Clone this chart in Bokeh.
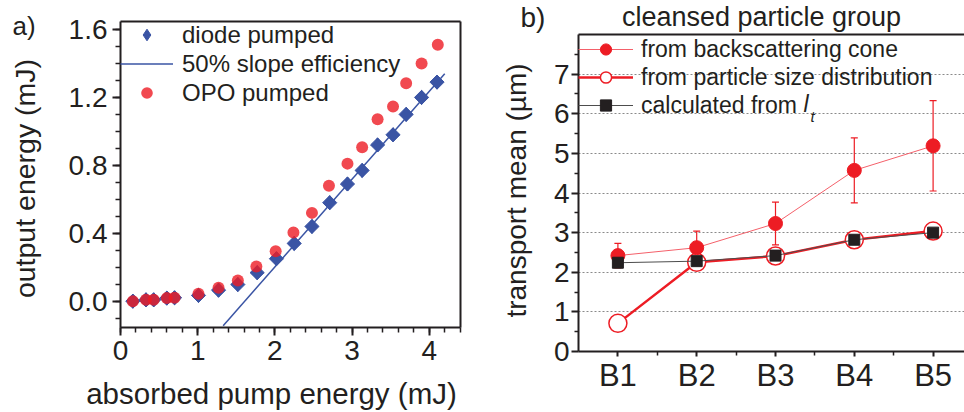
import numpy as np
from bokeh.plotting import figure
from bokeh.layouts import row
from bokeh.models import (Range1d, FixedTicker, Label, Legend, LegendItem, Whisker,
                          TeeHead, ColumnDataSource, LinearAxis, NumeralTickFormatter)
from bokeh.embed import file_html
from bokeh.resources import INLINE

# ---------------- data: panel a ----------------
diode_x = [0.16, 0.33, 0.43, 0.60, 0.70, 1.01, 1.27, 1.52, 1.77, 2.02, 2.25, 2.48, 2.71, 2.94, 3.13, 3.33, 3.53, 3.70, 3.90, 4.10]
diode_y = [0.0, 0.008, 0.008, 0.018, 0.02, 0.034, 0.065, 0.098, 0.168, 0.25, 0.34, 0.44, 0.58, 0.69, 0.77, 0.92, 0.98, 1.10, 1.20, 1.29]
opo_x = [0.16, 0.33, 0.43, 0.60, 0.70, 1.01, 1.27, 1.52, 1.76, 2.01, 2.24, 2.48, 2.70, 2.94, 3.13, 3.33, 3.53, 3.70, 3.90, 4.11]
opo_y = [0.0, 0.008, 0.008, 0.018, 0.02, 0.044, 0.079, 0.122, 0.204, 0.294, 0.405, 0.52, 0.68, 0.81, 0.907, 1.072, 1.147, 1.284, 1.40, 1.51]
slope_x = [1.33, 4.20]
slope_y = [-0.145, 1.34]
a_xticks = [0, 1, 2, 3, 4]
a_yticks = [0, 0.4, 0.8, 1.2, 1.6]

# ---------------- data: panel b ----------------
groups = ["B1", "B2", "B3", "B4", "B5"]
cone = [2.42, 2.62, 3.23, 4.57, 5.19]
cone_err = [0.31, 0.42, 0.54, 0.82, 1.14]
psd = [0.71, 2.25, 2.41, 2.82, 3.04]
calc = [2.24, 2.28, 2.42, 2.82, 3.00]
b_yticks = [0, 1, 2, 3, 4, 5, 6, 7]

FONT = "Liberation Sans"
TXT = "#231f20"
BLUE = "#3a54a4"
RED = "#ed1c24"
RED_LIGHT = "#f4606a"
H = 412


def make_fig(W, box_px, box_data):
    """Figure whose frame fills the canvas; box_px = (left, right, top, bottom) pixels of
    the drawn plot box, box_data = ((x0, x1), (y0, y1)) data extent of that box."""
    (l, r, t, b) = box_px
    (x0, x1), (y0, y1) = box_data
    kx = (r - l) / (x1 - x0)
    ky = (b - t) / (y1 - y0)
    xr = Range1d(x0 - l / kx, x1 + (W - r) / kx)
    yr = Range1d(y0 - (H - b) / ky, y1 + t / ky)
    p = figure(width=W, height=H, x_range=xr, y_range=yr, output_backend="svg",
               toolbar_location=None, x_axis_location=None, y_axis_location=None,
               min_border=0, min_border_left=0, min_border_right=0,
               min_border_top=0, min_border_bottom=0)
    p.frame_align = False
    p.title.visible = False
    p.title.text_font_size = "0px"
    p.title.standoff = 0
    p.outline_line_color = None
    p.grid.visible = False
    return p


def axis(p, place, loc, bounds, ticks=None, minor=None, tick_out=0, minor_out=0,
         size="28px", standoff=4, line=True):
    ax = LinearAxis(fixed_location=loc, bounds=bounds,
                    ticker=FixedTicker(ticks=ticks or [], minor_ticks=minor or []))
    ax.axis_line_width = 2
    ax.axis_line_color = TXT if line else None
    ax.major_tick_line_width = 2
    ax.minor_tick_line_width = 1.5
    ax.major_tick_line_color = TXT
    ax.minor_tick_line_color = TXT
    ax.major_tick_in = 0
    ax.minor_tick_in = 0
    ax.major_tick_out = tick_out
    ax.minor_tick_out = minor_out
    ax.major_label_text_font = FONT
    ax.major_label_text_font_size = size
    ax.major_label_text_color = TXT
    ax.major_label_standoff = standoff
    p.add_layout(ax, place)
    return ax


def label(p, fx, fy, text, size, align="left", angle=0.0, style="normal"):
    """fy = baseline position (pixels from top) for horizontal text; for rotated text
    fx is the centre of the em box."""
    fs = float(size.replace("px", ""))
    if angle == 0.0:
        fy = fy - 0.35 * fs
    p.add_layout(Label(x=fx, y=H - fy, x_units="screen", y_units="screen", text=text,
                       angle=angle, text_font=FONT, text_font_size=size,
                       text_font_style=style, text_color=TXT, text_align=align,
                       text_baseline="middle"))


# ======================= panel a =======================
W1 = 480
X1 = (0, 4.404)
Y1 = (-0.155, 1.647)
p1 = make_fig(W1, (120, 460, 21, 327), (X1, Y1))

xa = axis(p1, "below", Y1[0], X1, a_xticks, [round(0.2 * i, 2) for i in range(23)],
          8, 5, "28px", 5)
ya = axis(p1, "left", X1[0], Y1, a_yticks, [round(-0.1 + 0.1 * i, 2) for i in range(18)],
          8, 5, "28px", 5)
ya.formatter = NumeralTickFormatter(format="0.0")
axis(p1, "above", Y1[1], X1)
axis(p1, "right", X1[1], Y1)

sl = p1.line(slope_x, slope_y, line_color=BLUE, line_width=1.5)
dia_key = p1.scatter(diode_x, diode_y, marker="diamond", size=14, fill_color=BLUE,
                     line_color=BLUE)
dia = p1.scatter(diode_x, diode_y, marker="square", angle=np.pi / 4, size=10,
                 fill_color=BLUE, line_color=BLUE)
opo = p1.scatter(opo_x, opo_y, marker="circle", size=12, fill_color=RED,
                 line_color=None, fill_alpha=0.8)

leg1 = Legend(items=[LegendItem(label="diode pumped", renderers=[dia_key]),
                     LegendItem(label="50% slope efficiency", renderers=[sl]),
                     LegendItem(label="OPO pumped", renderers=[opo])],
              location=(120, H - 20 - 87), border_line_color=None, background_fill_alpha=0,
              padding=0, margin=0, spacing=0, glyph_width=53, glyph_height=29,
              label_height=29, label_standoff=9, label_text_font=FONT,
              label_text_font_size="24px", label_text_color=TXT)
p1.add_layout(leg1)

label(p1, 12, 35, "a)", "26px")
label(p1, 24, 178, "output energy (mJ)", "28.5px", align="center", angle=np.pi / 2)
label(p1, 271, 403, "absorbed pump energy (mJ)", "29.5px", align="center")

# ======================= panel b =======================
W2 = 484
xs = list(range(1, len(groups) + 1))
X2 = (0.5, 0.5 + (W2 - 98) / 78.8)
Y2 = (0, 8)
p2 = make_fig(W2, (98, W2, 34, 351), (X2, Y2))

# dotted horizontal grid, bounded to the plot box (long inward ticks)
grid_ticks = [v for v in b_yticks if v > 0]
g = axis(p2, "left", X2[0], Y2, grid_ticks, None, 0, 0, "28px", 0, line=False)
g.major_tick_in = W2 - 98
g.major_tick_line_width = 1
g.major_tick_line_color = "#8a8a8a"
g.major_tick_line_dash = "2 2"
g.major_label_overrides = {v: "" for v in grid_ticks}
g.level = "underlay"

xb = axis(p2, "below", Y2[0], X2, xs, [v + 0.5 for v in xs], 5, 4, "31px", 1)
xb.major_label_overrides = {v: gname for v, gname in zip(xs, groups)}
yb = axis(p2, "left", X2[0], Y2, b_yticks, [v + 0.5 for v in b_yticks], 7, 4, "28px", 2)
axis(p2, "above", Y2[1], X2)

src = ColumnDataSource(dict(
    x=xs, cone=cone, psd=psd, calc=calc,
    lo=[c - e for c, e in zip(cone, cone_err)],
    hi=[c + e for c, e in zip(cone, cone_err)]))

psd_line = p2.line('x', 'psd', source=src, line_color=RED, line_width=2.5)
psd_pts = p2.scatter('x', 'psd', source=src, marker="circle", size=18, fill_color="white",
                     line_color=RED, line_width=1.5)
cone_line = p2.line('x', 'cone', source=src, line_color=RED_LIGHT, line_width=1)
wh = Whisker(source=src, base='x', upper='hi', lower='lo', line_color=RED, line_width=1.2,
             upper_head=TeeHead(size=7, line_color=RED, line_width=1.2),
             lower_head=TeeHead(size=7, line_color=RED, line_width=1.2), level="underlay")
p2.add_layout(wh)
cone_pts = p2.scatter('x', 'cone', source=src, marker="circle", size=14, fill_color=RED,
                      line_color=RED)
calc_line = p2.line('x', 'calc', source=src, line_color="#4d4d4d", line_width=1)
calc_pts = p2.scatter('x', 'calc', source=src, marker="square", size=11, fill_color=TXT,
                      line_color=TXT)

leg2 = Legend(items=[LegendItem(label="from backscattering cone", renderers=[cone_line, cone_pts]),
                     LegendItem(label="from particle size distribution", renderers=[psd_line, psd_pts]),
                     LegendItem(label="calculated from", renderers=[calc_line, calc_pts])],
              location=(98, H - 35 - 84), border_line_color=None, background_fill_alpha=0,
              padding=0, margin=0, spacing=0, glyph_width=55, glyph_height=28,
              label_height=28, label_standoff=8, label_text_font=FONT,
              label_text_font_size="23px", label_text_color=TXT)
p2.add_layout(leg2)

label(p2, 323, 112, "l", "23px", style="italic")
label(p2, 330, 121, "t", "15px", style="italic")
label(p2, 40, 27, "b)", "28px")
label(p2, 281, 26, "cleansed particle group", "27px", align="center")
label(p2, 36, 190, "transport mean (µm)", "28px", align="center", angle=np.pi / 2)

layout = row(p1, p2)
open("out.html", "w").write(file_html(layout, INLINE))
